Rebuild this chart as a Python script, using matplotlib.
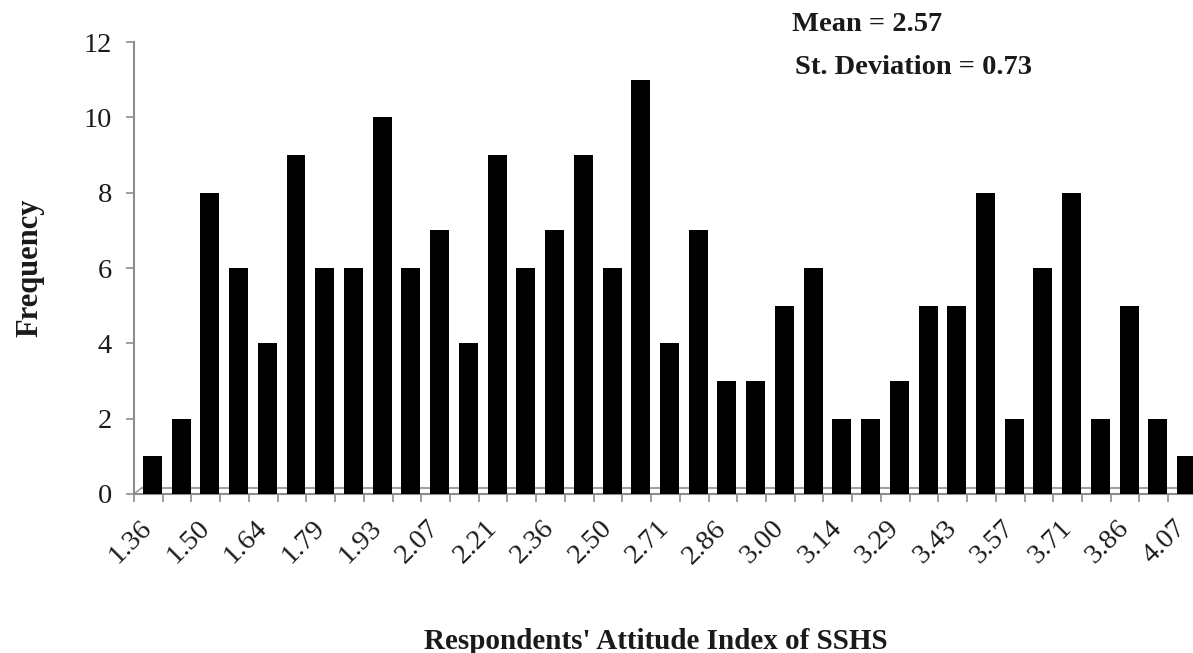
import matplotlib
matplotlib.use('Agg')
import matplotlib.pyplot as plt
import numpy as np

# attitude index bins (labels shown on every other bar) and frequencies
shown_labels = ['1.36', '1.50', '1.64', '1.79', '1.93', '2.07', '2.21', '2.36', '2.50', '2.71',
                '2.86', '3.00', '3.14', '3.29', '3.43', '3.57', '3.71', '3.86', '4.07']
freq = [1, 2, 8, 6, 4, 9, 6, 6, 10, 6, 7, 4, 9, 6, 7, 9, 6, 11, 4,
        7, 3, 3, 5, 6, 2, 2, 3, 5, 5, 8, 2, 6, 8, 2, 5, 2, 1]
mean_val, sd_val = 2.57, 0.73

INK, AXIS = '#1a1a1a', '#8c8c8c'
plt.rcParams['font.family'] = ['Liberation Serif', 'DejaVu Serif']

fig = plt.figure(figsize=(11.93, 6.53), dpi=100)
ax = fig.add_axes([0.1123, 0.2435, 0.891, 0.692])

x = np.arange(len(freq))
ax.bar(x + 0.14, freq, width=0.66, color='black', zorder=3)

ax.set_xlim(-0.5, len(freq) - 0.5)
ax.set_ylim(0, 12)
ax.set_yticks(range(0, 13, 2))

# category labels on every other bar, tick marks on the category borders
ax.set_xticks(x[::2])
ax.set_xticklabels(shown_labels, rotation=45, ha='right', va='center',
                   rotation_mode='anchor')
ax.set_xticks(np.arange(-0.5, len(freq), 1), minor=True)
ax.tick_params(axis='x', which='major', length=0, pad=22, labelsize=20.5, labelcolor=INK)
ax.tick_params(axis='x', which='minor', length=6, width=1.2, color=AXIS, direction='out')
ax.tick_params(axis='y', length=6, width=1.2, color=AXIS, pad=10, labelsize=20.5, labelcolor=INK)

for s in ('top', 'right'):
    ax.spines[s].set_visible(False)
ax.spines['left'].set_color(AXIS)
ax.spines['bottom'].set_color(AXIS)
ax.spines['left'].set_linewidth(1.5)
ax.spines['bottom'].set_linewidth(1.5)

# 3d floor edge
ax.axhline(0.17, xmin=0.008, color='#a0a0a0', lw=1.5, zorder=2)
ax.plot([-0.5, -0.22], [0, 0.17], color='#a0a0a0', lw=1.2, zorder=2, clip_on=False)

ax.set_ylabel('Frequency', fontsize=22, fontweight='bold', color=INK, labelpad=28)
ax.set_xlabel("Respondents' Attitude Index of SSHS", fontsize=21, fontweight='bold',
              color=INK)
ax.xaxis.set_label_coords((656 - 134) / 1063, -0.297)

fig.text(0.664, 0.962, f'Mean = {mean_val:.2f}', fontsize=20.5, fontweight='bold',
         color=INK, va='center', ha='left')
fig.text(0.666, 0.896, f'St. Deviation = {sd_val:.2f}', fontsize=20.5, fontweight='bold',
         color=INK, va='center', ha='left')

fig.savefig('out.png', dpi=100, facecolor='white')
